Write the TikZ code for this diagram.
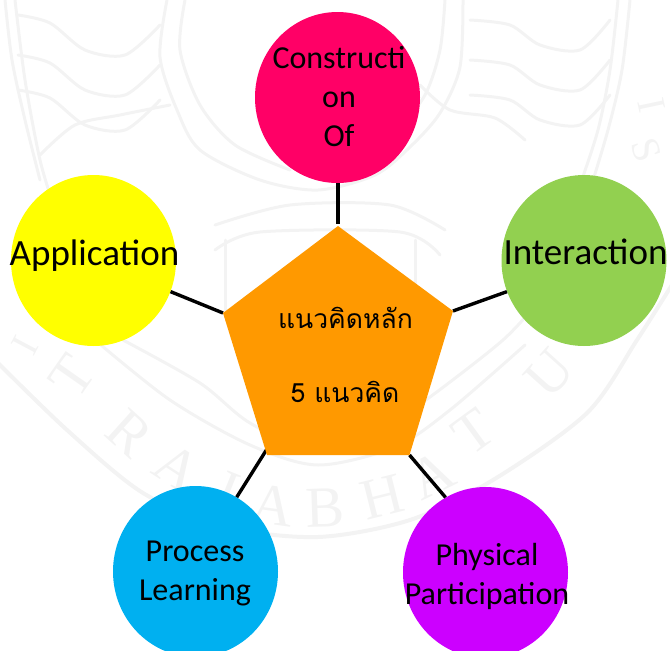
\documentclass[tikz,border=0pt]{standalone}
\usepackage{fontspec}
\setmainfont{Carlito}
\newfontfamily\thaifont[Script=Thai]{Loma}
\newfontfamily\wmfont{Liberation Serif}
\usetikzlibrary{shapes.geometric}
\definecolor{cRose}{HTML}{FF0066}
\definecolor{cGreen}{HTML}{92D050}
\definecolor{cYellow}{HTML}{FFFF00}
\definecolor{cBlue}{HTML}{00B0F0}
\definecolor{cViolet}{HTML}{CC00FF}
\definecolor{cOrange}{HTML}{FF9900}
\definecolor{cWater}{HTML}{F3F3F3}
\tikzset{
  bubble/.style={ellipse,minimum width=165pt,minimum height=171pt,inner sep=0pt},
  link/.style={line width=3.4pt,black},
  wmline/.style={cWater,line width=3pt,line cap=round,line join=round},
  wmletter/.style={text=cWater,inner sep=0pt,font=\wmfont\fontsize{58}{58}\selectfont},
  wmsmall/.style={text=cWater,inner sep=0pt,font=\wmfont\fontsize{40}{40}\selectfont},
  label/.style={inner sep=0pt,align=center,text=black,font=\fontsize{32}{39}\selectfont},
  biglabel/.style={inner sep=0pt,text=black,font=\fontsize{37}{39}\selectfont},
  thailabel/.style={inner sep=0pt,text=black,font=\thaifont\fontsize{26.5}{30}\selectfont}
}
\begin{document}
\begin{tikzpicture}[x=1pt,y=-1pt]
\useasboundingbox (0,0) rectangle (670,651);
% faint seal in the background
\draw[wmline,line width=4pt] plot[smooth] coordinates {(-5,360) (67,430) (143,493) (225,527) (318,537) (410,520) (493,480) (587,413) (637,340) (675,280)};
\draw[wmline] plot[smooth] coordinates {(123,340) (200,383) (250,423) (318,452) (380,430) (430,397) (503,340) (540,300)};
\draw[wmline] plot[smooth] coordinates {(95,340) (170,400) (250,445) (318,465) (395,447) (450,410) (525,345)};
\draw[wmline] plot[smooth] coordinates {(5,0) (12,60) (25,120) (40,180)};
\draw[wmline] plot[smooth] coordinates {(15,0) (25,80) (40,160) (55,210)};
\draw[wmline] plot[smooth] coordinates {(630,0) (622,70) (608,130) (590,190)};
\draw[wmline] plot[smooth] coordinates {(618,0) (610,70) (598,130) (580,185)};
\draw[wmline] plot[smooth] coordinates {(167,0) (160,57) (177,110) (200,150) (260,180) (318,190) (375,175) (410,147) (440,113) (460,67) (463,0)};
\draw[wmline] plot[smooth] coordinates {(185,0) (180,50) (200,105) (235,145) (290,170)};
\draw[wmline] plot[smooth] coordinates {(445,0) (440,50) (425,95) (395,135)};
\foreach \yy/\kk in {15/0,55/1,90/2}{
  \draw[wmline] plot[smooth] coordinates {(18,\yy) (50,\yy+8) (85,\yy+35) (125,\yy+40) (160,\yy+10)};
  \draw[wmline] plot[smooth] coordinates {(470,\yy+5) (510,\yy+10) (540,\yy+30) (580,\yy+35) (610,\yy+5)};
}
\draw[wmline] plot[smooth] coordinates {(40,155) (75,125) (120,115) (170,105)};
\draw[wmline] plot[smooth] coordinates {(525,140) (495,118) (450,110) (420,85)};
\draw[wmline] plot[smooth] coordinates {(215,225) (290,205) (390,205) (445,230)};
\draw[wmline] plot[smooth] coordinates {(215,250) (260,232) (400,232) (440,255)};
\draw[wmline] (225,240) -- (225,310);
\draw[wmline] (415,240) -- (415,310);
\node[wmsmall,rotate=62] (wmI) at (25,345) {I};
\node[wmletter,rotate=55] (wmT) at (72,376) {T};
\node[wmletter,rotate=-42] (wmR) at (130,433) {R};
\node[wmletter,rotate=-33] (wmA) at (177,468) {A};
\node[wmletter,rotate=-22] (wmJ) at (225,490) {J};
\node[wmletter,rotate=-8] (wmAb) at (273,505) {A};
\node[wmletter,rotate=2] (wmB) at (325,508) {B};
\node[wmletter,rotate=14] (wmH) at (382,497) {H};
\node[wmletter,rotate=26] (wmAc) at (432,475) {A};
\node[wmletter,rotate=36] (wmTb) at (474,432) {T};
\node[wmletter,rotate=48] (wmU) at (550,373) {U};
\node[wmsmall,rotate=-72] (wmS) at (646,150) {S};
\node[wmsmall,rotate=-78] (wmI2) at (652,105) {I};
% centre pentagon corners
\coordinate (p1) at (338,226);
\coordinate (p2) at (453,311);
\coordinate (p3) at (409.5,455);
\coordinate (p4) at (267,455);
\coordinate (p5) at (223,313);
\coordinate (topEnd) at (338,224);
\coordinate (blEnd) at (267,449);
% ellipses
\node[bubble,fill=cRose] (top) at (337.5,97.5) {};
\node[bubble,fill=cGreen] (right) at (584,260.5) {};
\node[bubble,fill=cYellow] (left) at (93.5,260.5) {};
\node[bubble,fill=cBlue] (bl) at (195.5,571.5) {};
\node[bubble,fill=cViolet] (br) at (485.5,572.5) {};
% connectors
\draw[link] (top.south) ++(0.5,0) -- (topEnd);
\draw[link] (right.202) -- (p2);
\draw[link] (left.-22) -- (p5);
\draw[link] (bl.61) -- (blEnd);
\draw[link] (br.118) -- (p3);
\fill[cOrange] (p1) -- (p2) -- (p3) -- (p4) -- (p5) -- cycle;
% labels
\node[label] (ttop) at (339,96.5) {Constructi\\on\\Of};
\node[biglabel] (tright) at (585.5,251.5) {Interaction};
\node[biglabel] (tleft) at (94.5,255.5) {Application};
\node[label] (tbl) at (195,573.5) {Process\\Learning};
\node[label] (tbr) at (487,576) {Physical\\Participation};
\node[thailabel] (c1) at (345.5,318) {แนวคิดหลัก};
\node[thailabel] (c2) at (345,392) {5 แนวคิด};
\end{tikzpicture}
\end{document}
